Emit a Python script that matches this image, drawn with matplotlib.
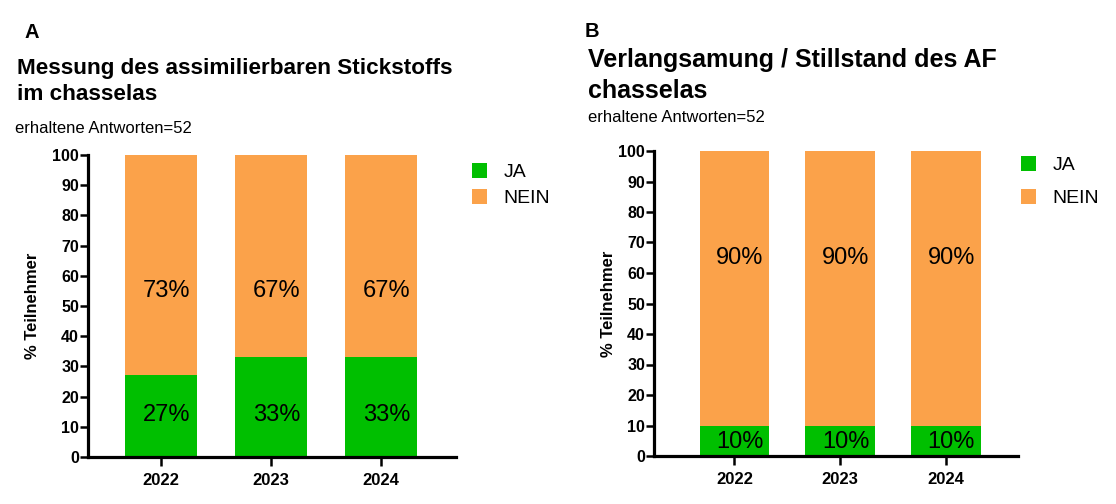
import matplotlib.pyplot as plt

plt.rcParams['font.family'] = ['Liberation Sans', 'DejaVu Sans']

# Daten
jahre = ['2022', '2023', '2024']
ja_a = [27, 33, 33]
nein_a = [73, 67, 67]
ja_b = [10, 10, 10]
nein_b = [90, 90, 90]
serien = ['JA', 'NEIN']

titel_a = ['Messung des assimilierbaren Stickstoffs', 'im chasselas']
titel_b = ['Verlangsamung / Stillstand des AF', 'chasselas']
untertitel = 'erhaltene Antworten=52'
ylabel = '% Teilnehmer'

gruen = '#00BF00'
orange = '#FBA24A'

W, H = 1116, 504
fig = plt.figure(figsize=(W / 100, H / 100), dpi=100)


def px(x, y):
    return x / W, 1 - y / H


def panel(rect, ja, nein, xlim, ja_y, nein_y, leg_pos, leg_spacing, ylab_x):
    ax = fig.add_axes(rect)
    x = range(len(jahre))
    ax.bar(x, ja, width=0.66, color=gruen, label=serien[0])
    ax.bar(x, nein, bottom=ja, width=0.66, color=orange, label=serien[1])
    for i in x:
        ax.text(i + 0.05, ja_y, f'{ja[i]}%', ha='center', va='center', fontsize=17)
        ax.text(i + 0.05, nein_y, f'{nein[i]}%', ha='center', va='center', fontsize=17)
    ax.set_xlim(*xlim)
    ax.set_ylim(0, 100)
    ax.set_yticks(range(0, 101, 10))
    ax.set_xticks(list(x))
    ax.set_xticklabels(jahre)
    for s in ['top', 'right']:
        ax.spines[s].set_visible(False)
    for s in ['left', 'bottom']:
        ax.spines[s].set_linewidth(2.3)
        ax.spines[s].set_capstyle('projecting')
    ax.tick_params(axis='y', length=5.5, width=1.8, pad=1, labelsize=11.5)
    ax.tick_params(axis='x', length=6.5, width=1.8, pad=5, labelsize=12)
    for lab in ax.get_xticklabels() + ax.get_yticklabels():
        lab.set_fontweight('bold')
    ax.text(ylab_x, 0.5, ylabel, transform=ax.transAxes, rotation=90,
            ha='center', va='center', fontsize=12, fontweight='bold')
    ax.legend(loc='upper left', bbox_to_anchor=px(*leg_pos),
              bbox_transform=fig.transFigure, frameon=False, fontsize=14,
              handlelength=0.78, handleheight=0.78, handletextpad=0.85,
              labelspacing=leg_spacing, borderpad=0, borderaxespad=0)
    return ax


l, b = px(88, 457)
r, t = px(456, 155)
panel([l, b, r - l, t - b], ja_a, nein_a, (-0.664, 2.68), 14, 55,
      (472, 163), 0.41, -0.152)

l, b = px(654, 456)
r, t = px(1018, 151)
panel([l, b, r - l, t - b], ja_b, nein_b, (-0.76, 2.68), 4.6, 65,
      (1021, 156), 0.77, -0.126)

# Titel
fig.text(*px(24, 38), 'A', fontsize=14.5, fontweight='bold', va='baseline')
fig.text(*px(17, 74), titel_a[0], fontsize=16.2, fontweight='bold', va='baseline')
fig.text(*px(17, 100), titel_a[1], fontsize=16.2, fontweight='bold', va='baseline')
fig.text(*px(15, 133), untertitel, fontsize=12, va='baseline')

fig.text(*px(585, 37), 'B', fontsize=14.5, fontweight='bold', va='baseline')
fig.text(*px(588, 67), titel_b[0], fontsize=18, fontweight='bold', va='baseline')
fig.text(*px(588, 98), titel_b[1], fontsize=18, fontweight='bold', va='baseline')
fig.text(*px(588, 122), untertitel, fontsize=12, va='baseline')

fig.savefig('out.png', dpi=100)
